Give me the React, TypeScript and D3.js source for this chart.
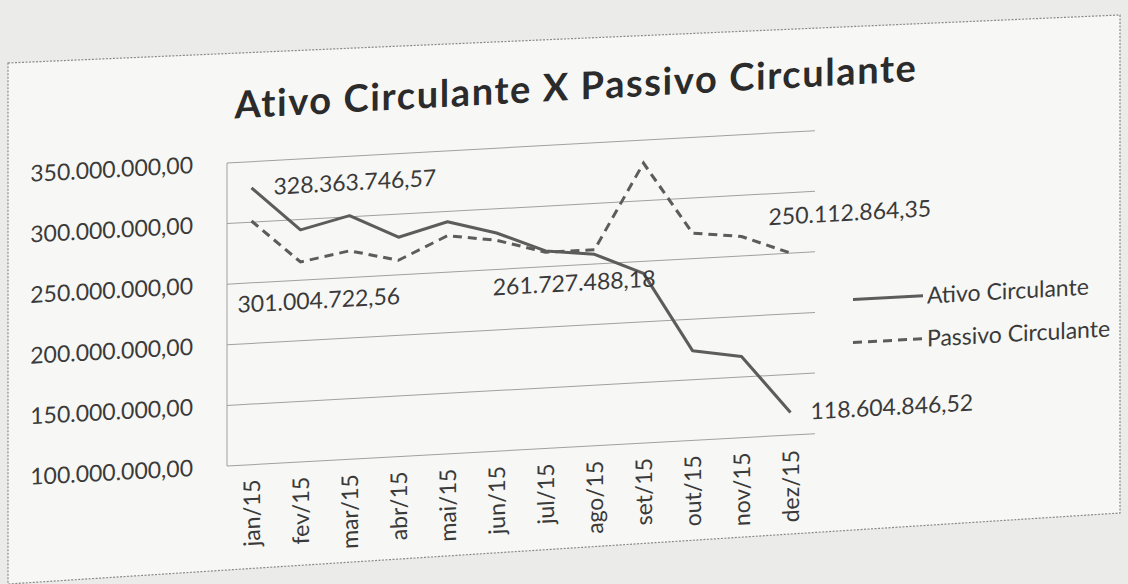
import * as d3 from 'd3';

// months on the x axis
const months = [
  'jan/15', 'fev/15', 'mar/15', 'abr/15', 'mai/15', 'jun/15',
  'jul/15', 'ago/15', 'set/15', 'out/15', 'nov/15', 'dez/15',
];

// Ativo Circulante (solid)
const ativo = [
  328363746.57, 291500000, 301000000, 281000000, 291500000, 280000000,
  263000000, 258000000, 240000000, 174000000, 167000000, 118604846.52,
];

// Passivo Circulante (dashed)
const passivo = [
  301004722.56, 265000000, 272000000, 262000000, 280000000, 274000000,
  262000000, 261727488.18, 331000000, 271000000, 266000000, 250112864.35,
];

const yTicks = [100000000, 150000000, 200000000, 250000000, 300000000, 350000000];

const seriesNames = ['Ativo Circulante', 'Passivo Circulante'];

const br = d3.formatLocale({ decimal: ',', thousands: '.', grouping: [3], currency: ['R$', ''] });
const fmt = br.format(',.2f');

export default function App() {
  const width = 1128;
  const height = 584;
  const plot = { left: 227, right: 815, top: 163, bottom: 466 };
  const skew = -0.055; // the photo is taken at a slant

  const x = d3.scalePoint<string>().domain(months).range([plot.left, plot.right]).padding(0.5);
  const y = d3.scaleLinear().domain([100000000, 350000000]).range([plot.bottom, plot.top]);

  const line = d3
    .line<number>()
    .x((_, i) => x(months[i])!)
    .y((d) => y(d));

  const font = 'Lato, "Open Sans", sans-serif';
  const ink = '#3a3a3a';
  const lineColor = '#5c5c5c';
  const fs = 23;

  // data labels shown in the chart: [values, index, dx, dy, anchor]
  const labels: [number[], number, number, number, string][] = [
    [ativo, 0, 22, 0, 'start'],
    [passivo, 0, -14, 83, 'start'],
    [passivo, 7, 61, 32, 'end'],
    [passivo, 11, -22, -37, 'start'],
    [ativo, 11, 20, 0, 'start'],
  ];

  return (
    <svg
      width={width}
      height={height}
      style={{ position: 'absolute', left: 0, top: 0, background: '#ebebe9' }}
    >
      <polygon
        points="8,63 1120,15 1120,513 8,584"
        fill="#f7f7f5"
        stroke="#8a8a8a"
        strokeDasharray="2,1.5"
        strokeWidth={1.2}
      />
      <line x1={8} x2={8} y1={584} y2={height} stroke="#8a8a8a" strokeDasharray="2,1.5" />

      <g transform={`matrix(1, ${skew}, 0, 1, 0, ${-skew * plot.left})`} fontFamily={font}>
        <text
          x={576}
          y={119}
          textAnchor="middle"
          fontSize={38}
          fontWeight={700}
          letterSpacing={1.6}
          fill="#2b2b2b"
        >
          Ativo Circulante X Passivo Circulante
        </text>

        {yTicks.map((t) => (
          <g key={t}>
            <line x1={plot.left} x2={plot.right} y1={y(t)} y2={y(t)} stroke="#a0a0a0" strokeWidth={1} />
            <text x={193} y={y(t)} dy="0.35em" textAnchor="end" fontSize={fs} fill={ink}>
              {fmt(t)}
            </text>
          </g>
        ))}
        <line x1={plot.left} x2={plot.left} y1={plot.top} y2={plot.bottom} stroke="#a0a0a0" />

        {months.map((m) => (
          <text
            key={m}
            transform={`translate(${x(m)},${plot.bottom + 15}) rotate(-90)`}
            dy="0.35em"
            textAnchor="end"
            fontSize={fs}
            fill={ink}
          >
            {m}
          </text>
        ))}

        <path d={line(passivo)!} fill="none" stroke={lineColor} strokeWidth={3} strokeDasharray="9,6" />
        <path d={line(ativo)!} fill="none" stroke={lineColor} strokeWidth={3} strokeLinejoin="round" />

        {labels.map(([vals, i, dx, dy, anchor], k) => (
          <text
            key={k}
            x={x(months[i])! + dx}
            y={y(vals[i]) + dy}
            dy="0.35em"
            textAnchor={anchor}
            fontSize={fs}
            fill={ink}
          >
            {fmt(vals[i])}
          </text>
        ))}

        {seriesNames.map((name, i) => (
          <g key={name} transform={`translate(853,${334 + i * 43})`}>
            <line
              x1={0}
              x2={70}
              stroke={lineColor}
              strokeWidth={3}
              strokeDasharray={i === 1 ? '9,6' : undefined}
            />
            <text x={74} dy="0.35em" fontSize={fs} fill={ink}>
              {name}
            </text>
          </g>
        ))}
      </g>
    </svg>
  );
}
